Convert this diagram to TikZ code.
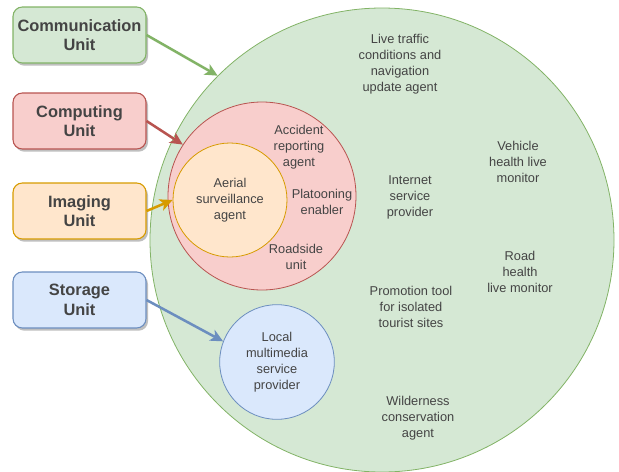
\documentclass[tikz,border=0pt]{standalone}
\usepackage{fontspec}
\setmainfont{Liberation Sans}
\usetikzlibrary{arrows.meta,shadows}

\definecolor{greenfill}{HTML}{D5E8D4}
\definecolor{greenline}{HTML}{82B366}
\definecolor{redfill}{HTML}{F8CECC}
\definecolor{redline}{HTML}{B85450}
\definecolor{orangefill}{HTML}{FFE6CC}
\definecolor{orangeline}{HTML}{D79B00}
\definecolor{bluefill}{HTML}{DAE8FC}
\definecolor{blueline}{HTML}{6C8EBF}
\definecolor{txt}{HTML}{444444}

\begin{document}
\begin{tikzpicture}[
  x=0.75pt, y=-0.75pt,
  unit/.style={draw,rectangle,rounded corners=7pt,minimum width=99.75pt,minimum height=42pt,
    line width=0.8pt,align=center,text=txt,font=\fontsize{12.3}{14.5}\selectfont\bfseries,
    drop shadow={shadow xshift=1.5pt,shadow yshift=-2pt,opacity=0.25,fill=black}},
  zone/.style={draw,circle,inner sep=0pt,line width=0.6pt},
  agent/.style={align=center,text=txt,font=\fontsize{9.6}{12}\selectfont},
  link/.style={-{Stealth[length=9.5pt,width=9pt,inset=2.5pt]},line width=1.9pt}
]
  \useasboundingbox (0,0) rectangle (619,472);

  % zones
  \node[zone,fill=greenfill,draw=greenline,minimum size=348pt] (edge) at (382,240) {};
  \node[zone,fill=redfill,draw=redline,minimum size=141pt] (comp) at (262,196) {};
  \node[zone,fill=orangefill,draw=orangeline,minimum size=85.5pt,agent] (aerial) at (230,200) {Aerial\\surveillance\\agent};
  \node[zone,fill=bluefill,draw=blueline,minimum size=86pt,agent] (media) at (277,362) {Local\\multimedia\\service\\provider};

  % units
  \node[unit,fill=greenfill,draw=greenline] (commu) at (79.5,35) {Communication\\Unit};
  \node[unit,fill=redfill,draw=redline] (compu) at (79.5,121) {Computing\\Unit};
  \node[unit,fill=orangefill,draw=orangeline] (imgu) at (79.5,211) {Imaging\\Unit};
  \node[unit,fill=bluefill,draw=blueline] (storu) at (79.5,300) {Storage\\Unit};

  % agents in computing zone
  \node[agent] (accident) at (299,147) {Accident\\reporting\\agent};
  \node[agent] (platoon) at (322,202) {Platooning\\enabler};
  \node[agent] (roadside) at (296,257) {Roadside\\unit};

  % agents in communication zone
  \node[agent] (traffic) at (400,64) {Live traffic\\conditions and\\navigation\\update agent};
  \node[agent] (vehicle) at (518,162) {Vehicle\\health live\\monitor};
  \node[agent] (isp) at (410,197) {Internet\\service\\provider};
  \node[agent] (road) at (520,272) {Road\\health\\live monitor};
  \node[agent] (promo) at (411,307) {Promotion tool\\for isolated\\tourist sites};
  \node[agent] (wild) at (418,418) {Wilderness\\conservation\\agent};

  % arrows
  \draw[link,greenline] (commu.east) -- (edge.135);
  \draw[link,redline] (compu.east) -- (comp.147);
  \draw[link,orangeline] (imgu.east) -- (aerial.180);
  \draw[link,blueline] (storu.east) -- (media.159);

\end{tikzpicture}
\end{document}
